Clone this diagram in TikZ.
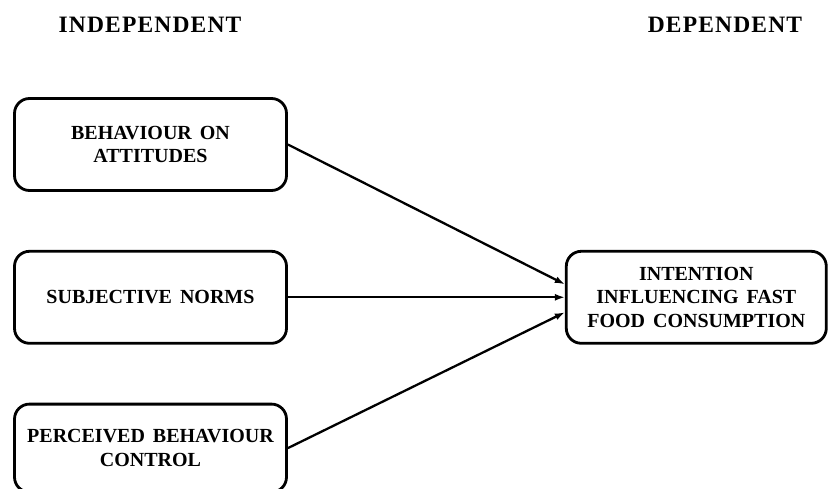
\documentclass[tikz,border=0pt]{standalone}
\usepackage{fontspec}
\setmainfont{Liberation Serif}
\newfontfamily\boxfont[WordSpace=1.6]{Liberation Serif}
\usetikzlibrary{positioning,arrows.meta}

\begin{document}
\begin{tikzpicture}[
  x=1pt, y=1pt,
  var/.style={draw, line width=2.8pt, rounded corners=15pt, minimum width=272pt,
    minimum height=92pt, align=center, inner sep=4pt,
    font=\boxfont\fontsize{20}{23.5}\selectfont\bfseries},
  head/.style={font=\fontsize{23.5}{26}\selectfont\bfseries\addfontfeatures{LetterSpace=5}},
  link/.style={-{Latex[length=10pt,width=7pt]}, line width=2.3pt},
  node distance=58pt and 277pt
]
\useasboundingbox[fill=white] (0,0) rectangle (828,-489);

\node[head] (indep) at (150,-25) {INDEPENDENT};
\node[head] (dep) at (725,-25) {DEPENDENT};

\node[var] (att) at (150.5,-144.5) {BEHAVIOUR ON\\ATTITUDES};
\node[var, below=of att] (norms) {SUBJECTIVE NORMS};
\node[var, below=of norms, minimum height=88pt] (pbc) {PERCEIVED BEHAVIOUR\\CONTROL};
\node[var, right=of norms, minimum width=260pt] (intent) {INTENTION\\INFLUENCING FAST\\FOOD CONSUMPTION};

\draw[link] (att.east) -- ([yshift=13pt]intent.west);
\draw[link] (norms.east) -- (intent.west);
\draw[link] (pbc.east) -- ([yshift=-15pt]intent.west);
\end{tikzpicture}
\end{document}
